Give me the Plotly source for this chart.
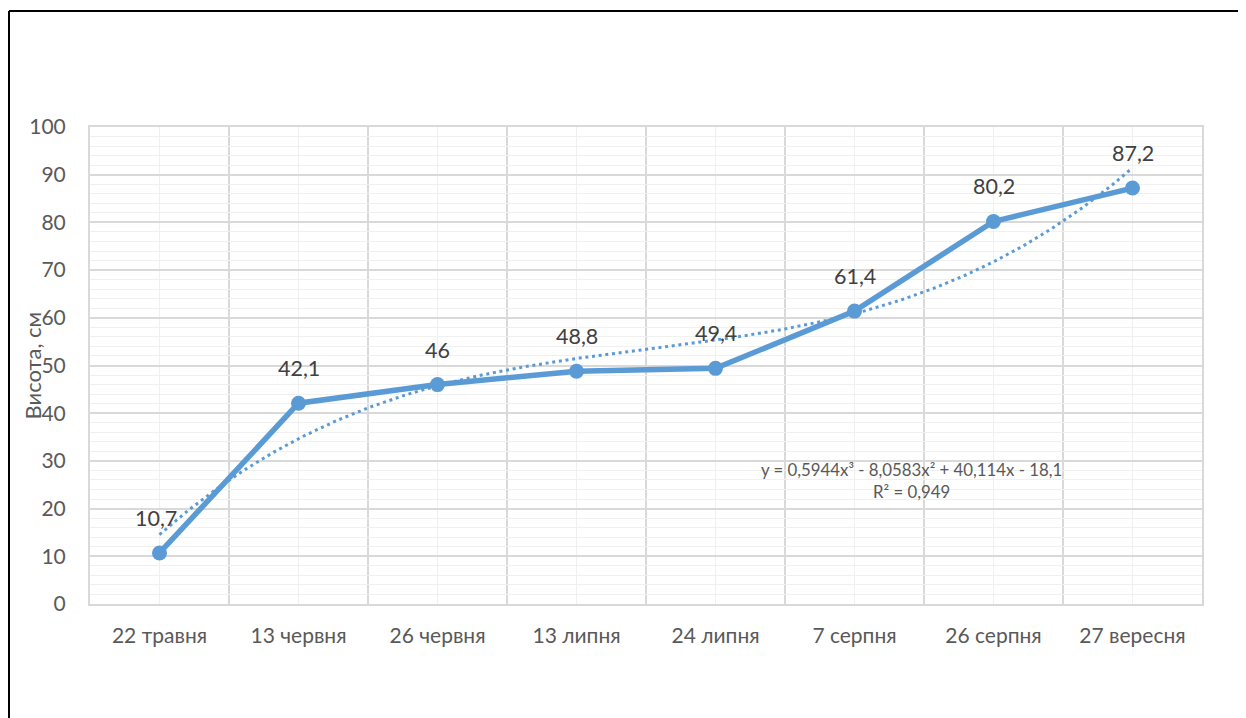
import numpy as np
import plotly.graph_objects as go

categories = ["22 травня", "13 червня", "26 червня", "13 липня", "24 липня", "7 серпня", "26 серпня", "27 вересня"]
heights = [10.7, 42.1, 46, 48.8, 49.4, 61.4, 80.2, 87.2]
y_title = "Висота, см"
equation_text = "y = 0,5944x³ - 8,0583x² + 40,114x - 18,1<br>R² = 0,949"

x_idx = np.arange(1, len(categories) + 1)
coef = np.polyfit(x_idx, heights, 3)
x_fit = np.linspace(1, len(categories), 300)
y_fit = np.polyval(coef, x_fit)

FONT = "Lato"
BLUE = "#5b9bd5"
TXT = "#595959"

W, H = 1246, 718
L, R, T, B = 82, 52, 119, 122
PW, PH = W - L - R, H - T - B

fig = go.Figure()
fig.add_trace(go.Scatter(x=x_fit, y=y_fit, mode="lines",
                         line=dict(color=BLUE, width=3, dash="3px,3.7px"),
                         hoverinfo="skip", showlegend=False))
fig.add_trace(go.Scatter(x=x_idx, y=heights, mode="lines+markers",
                         line=dict(color=BLUE, width=5.5),
                         marker=dict(color=BLUE, size=15),
                         showlegend=False))

for xi, v in zip(x_idx, heights):
    fig.add_annotation(x=xi, y=v, text=f"{v:g}".replace(".", ","), showarrow=False,
                       yshift=35, xshift=-4 if xi == 1 else 0,
                       font=dict(family=FONT, size=21.5, color="#404040"))

fig.add_annotation(x=6.41, y=25.8, xref="x", yref="y", text=equation_text, showarrow=False,
                   align="center", font=dict(family=FONT, size=16.8, color=TXT))

fig.add_annotation(x=(32 - 90) / PW, y=0.5, xref="paper", yref="paper", text=y_title,
                   textangle=-90, showarrow=False, xanchor="center", yanchor="middle",
                   font=dict(family=FONT, size=22, color=TXT))

fig.update_layout(
    width=W, height=H,
    margin=dict(l=L, r=R, t=T, b=B),
    paper_bgcolor="white", plot_bgcolor="white",
    font=dict(family=FONT, size=21, color=TXT),
    xaxis=dict(range=[0.5, len(categories) + 0.5], tickmode="array",
               tickvals=list(x_idx), ticktext=categories,
               showgrid=True, gridcolor="#f0f0f0", gridwidth=1,
               minor=dict(tickmode="array", tickvals=list(np.arange(1.5, len(categories), 1.0)),
                          showgrid=True, gridcolor="#d9d9d9", gridwidth=1.5),
               showline=True, linecolor="#d9d9d9", linewidth=2, mirror=True,
               ticks="outside", ticklen=12, tickcolor="rgba(0,0,0,0)",
               zeroline=False, tickfont=dict(family=FONT, size=21, color=TXT)),
    yaxis=dict(range=[0, 100], dtick=10, tick0=0,
               showgrid=True, gridcolor="#d9d9d9", gridwidth=1.5,
               minor=dict(dtick=2, showgrid=True, gridcolor="#f0f0f0", gridwidth=1),
               showline=True, linecolor="#d9d9d9", linewidth=2, mirror=True,
               ticks="outside", ticklen=18, tickcolor="rgba(0,0,0,0)",
               zeroline=False, tickfont=dict(family=FONT, size=21, color=TXT)),
)

top_y = 1 + (T - 3) / PH
left_x = (1 - L) / PW
fig.add_shape(type="line", xref="paper", yref="paper",
              x0=left_x, x1=1.2, y0=top_y, y1=top_y,
              line=dict(color="black", width=2))
fig.add_shape(type="line", xref="paper", yref="paper",
              x0=left_x, x1=left_x, y0=top_y, y1=-0.4,
              line=dict(color="black", width=2))

fig.write_html("out.html")
